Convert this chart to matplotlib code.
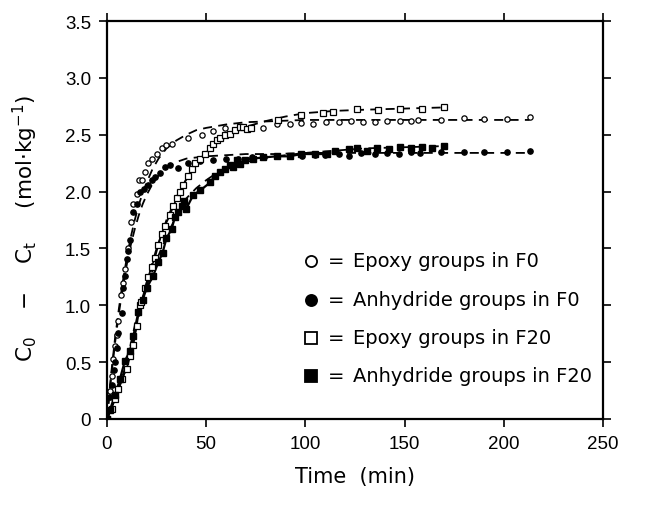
import matplotlib
matplotlib.use("Agg")
import matplotlib.pyplot as plt

plt.rcParams['font.family'] = ['Liberation Sans', 'DejaVu Sans']
plt.rcParams['mathtext.fontset'] = 'custom'
plt.rcParams['mathtext.rm'] = 'DejaVu Sans'
plt.rcParams['mathtext.it'] = 'DejaVu Sans'

# Epoxy groups in F0 (open circles)
t_ep_f0 = [0, 1.5, 2.4, 3.2, 4.0, 4.9, 5.7, 6.9, 8.2, 9.1, 10.7, 12.0, 13.3, 14.9,
           16.3, 17.5, 19.0, 20.8, 22.5, 25.0, 27.5, 30.0, 32.6, 41.0, 47.7, 53.5,
           59.5, 72.0, 78.8, 85.5, 92.0, 98.0, 104.0, 110.5, 117.0, 123.0, 129.0,
           135.0, 141.0, 147.6, 153.0, 157.0, 168.5, 180.0, 190.0, 201.5, 213.0]
c_ep_f0 = [0, 0.25, 0.38, 0.53, 0.64, 0.74, 0.86, 1.09, 1.20, 1.32, 1.50, 1.73, 1.89, 1.98,
           2.10, 2.10, 2.17, 2.25, 2.29, 2.33, 2.38, 2.41, 2.42, 2.47, 2.50, 2.53,
           2.56, 2.555, 2.56, 2.59, 2.59, 2.60, 2.59, 2.61, 2.61, 2.62, 2.61,
           2.61, 2.62, 2.62, 2.62, 2.63, 2.63, 2.65, 2.64, 2.64, 2.66]

# Anhydride groups in F0 (filled circles)
t_an_f0 = [0, 1.5, 2.4, 3.5, 4.0, 4.9, 5.7, 7.4, 8.2, 9.1, 9.9, 10.7, 11.6, 13.3, 14.9,
           16.6, 18.5, 20.8, 22.5, 24.2, 26.7, 29.2, 31.7, 36.0, 41.0, 47.0, 53.6,
           60.0, 66.0, 73.0, 79.0, 85.5, 92.0, 98.5, 105.0, 110.0, 117.0, 122.0,
           128.0, 135.0, 141.0, 147.0, 153.0, 158.0, 168.5, 180.0, 190.0, 201.5, 213.0]
c_an_f0 = [0, 0.19, 0.30, 0.43, 0.50, 0.62, 0.76, 0.93, 1.15, 1.26, 1.41, 1.48, 1.57, 1.82, 1.89,
           2.00, 2.02, 2.06, 2.10, 2.13, 2.16, 2.22, 2.23, 2.21, 2.25, 2.27, 2.28,
           2.29, 2.29, 2.30, 2.30, 2.31, 2.31, 2.31, 2.32, 2.32, 2.33, 2.31,
           2.34, 2.33, 2.34, 2.33, 2.35, 2.34, 2.35, 2.35, 2.35, 2.35, 2.36]

# Epoxy groups in F20 (open squares)
t_ep_f20 = [0, 2.4, 4.0, 5.7, 7.4, 9.9, 11.6, 13.3, 15.0, 16.6, 17.4, 19.2, 20.8, 22.5,
            24.2, 25.9, 27.5, 29.2, 31.7, 33.4, 35.1, 36.8, 38.5, 41.0, 42.7, 44.4,
            46.9, 49.4, 51.9, 53.6, 55.3, 57.0, 59.5, 62.0, 64.5, 67.0, 68.7, 70.4,
            72.5, 86.3, 98.0, 109.0, 114.0, 126.0, 136.5, 147.5, 159.0, 170.0]
c_ep_f20 = [0, 0.09, 0.18, 0.26, 0.35, 0.44, 0.55, 0.65, 0.82, 1.00, 1.03, 1.15, 1.25, 1.34,
            1.42, 1.53, 1.63, 1.70, 1.79, 1.87, 1.94, 2.00, 2.06, 2.14, 2.20, 2.25,
            2.29, 2.33, 2.38, 2.42, 2.45, 2.47, 2.50, 2.51, 2.54, 2.57, 2.57, 2.55,
            2.56, 2.63, 2.67, 2.69, 2.70, 2.73, 2.72, 2.73, 2.73, 2.74]

# Anhydride groups in F20 (filled squares)
t_an_f20 = [0, 1.5, 4.0, 6.5, 9.0, 11.6, 13.3, 15.8, 18.0, 20.0, 23.3, 25.9, 28.0, 30.0,
            32.6, 34.3, 36.0, 37.6, 39.0, 40.0, 43.5, 47.0, 52.0, 54.4, 57.0, 59.5,
            62.0, 63.5, 65.3, 67.0, 69.6, 73.7, 78.8, 85.5, 92.0, 98.0, 105.0, 110.7,
            115.0, 121.8, 125.8, 131.0, 136.3, 142.0, 147.6, 153.0, 158.9, 164.0, 169.8]
c_an_f20 = [0, 0.08, 0.21, 0.35, 0.51, 0.60, 0.73, 0.94, 1.05, 1.15, 1.26, 1.38, 1.46, 1.59,
            1.67, 1.78, 1.82, 1.87, 1.92, 1.85, 1.97, 2.01, 2.08, 2.14, 2.17, 2.20,
            2.23, 2.22, 2.28, 2.24, 2.28, 2.29, 2.30, 2.31, 2.31, 2.33, 2.33, 2.33,
            2.36, 2.37, 2.38, 2.36, 2.38, 2.37, 2.39, 2.38, 2.39, 2.38, 2.40]

# Fitted kinetic curves (dashed)
t_fit_f0 = [0, 2, 4, 6, 8, 10, 12, 14, 16, 18, 20, 23, 26, 30, 35, 40, 45, 50, 60, 70,
            85, 100, 130, 160, 190, 213]
fit_ep_f0 = [0, 0.38, 0.70, 0.97, 1.21, 1.42, 1.60, 1.75, 1.88, 1.99, 2.08, 2.20, 2.29,
             2.38, 2.45, 2.50, 2.54, 2.56, 2.59, 2.61, 2.62, 2.63, 2.63, 2.63, 2.63, 2.63]
fit_an_f0 = [0, 0.35, 0.66, 0.93, 1.16, 1.36, 1.53, 1.67, 1.79, 1.89, 1.97, 2.07, 2.14,
             2.21, 2.26, 2.29, 2.30, 2.31, 2.32, 2.33, 2.33, 2.34, 2.34, 2.34, 2.34, 2.34]
t_fit_f20 = [0, 5, 10, 15, 20, 25, 30, 35, 40, 45, 50, 55, 60, 70, 80, 90, 100, 115,
             130, 150, 170]
fit_ep_f20 = [0, 0.22, 0.46, 0.82, 1.20, 1.50, 1.75, 1.95, 2.11, 2.24, 2.34, 2.42, 2.48,
              2.57, 2.62, 2.66, 2.69, 2.71, 2.72, 2.73, 2.74]
fit_an_f20 = [0, 0.22, 0.50, 0.90, 1.17, 1.40, 1.60, 1.79, 1.94, 2.03, 2.10, 2.16, 2.20,
              2.26, 2.30, 2.32, 2.34, 2.36, 2.38, 2.39, 2.40]

legend_labels = ['Epoxy groups in F0', 'Anhydride groups in F0',
                 'Epoxy groups in F20', 'Anhydride groups in F20']

fig = plt.figure(figsize=(6.46, 5.06), dpi=100)
ax = fig.add_axes([0.1656, 0.170, 0.7678, 0.7865])

dash = (0, (5, 3.5))
ax.plot(t_fit_f0, fit_ep_f0, color='black', lw=1.3, ls=dash)
ax.plot(t_fit_f0, fit_an_f0, color='black', lw=1.3, ls=dash)
ax.plot(t_fit_f20, fit_ep_f20, color='black', lw=1.3, ls=dash)
ax.plot(t_fit_f20, fit_an_f20, color='black', lw=1.3, ls=dash)

# F20 data joined by a thin solid line during the rise
n_ep = 39
n_an = 38
ax.plot(t_ep_f20[:n_ep], c_ep_f20[:n_ep], color='black', lw=1.2)
ax.plot(t_an_f20[:n_an], c_an_f20[:n_an], color='black', lw=1.6)

ax.plot(t_ep_f0, c_ep_f0, ls='none', marker='o', ms=3.8, mfc='white', mec='black', mew=0.9)
ax.plot(t_an_f0, c_an_f0, ls='none', marker='o', ms=3.8, mfc='black', mec='black')
ax.plot(t_ep_f20, c_ep_f20, ls='none', marker='s', ms=4.0, mfc='white', mec='black', mew=0.9)
ax.plot(t_an_f20, c_an_f20, ls='none', marker='s', ms=4.0, mfc='black', mec='black')

# legend drawn by hand as symbol "=" text rows
leg_marks = [('o', 'white'), ('o', 'black'), ('s', 'white'), ('s', 'black')]
leg_y = [0.398, 0.300, 0.204, 0.108]
for (m, fc), y, lab in zip(leg_marks, leg_y, legend_labels):
    ax.plot([0.411], [y], transform=ax.transAxes, marker=m, ms=8, mfc=fc,
            mec='black', mew=1.3, ls='none', clip_on=False)
    ax.text(0.445, y, '=', transform=ax.transAxes, fontsize=14,
            family='DejaVu Sans', va='center', ha='left')
    ax.text(0.496, y, lab, transform=ax.transAxes, fontsize=14,
            family='DejaVu Sans', va='center', ha='left')

ax.set_xlim(0, 250)
ax.set_ylim(0, 3.5)
ax.set_xticks([0, 50, 100, 150, 200, 250])
ax.set_yticks([0, 0.5, 1.0, 1.5, 2.0, 2.5, 3.0, 3.5])
ax.set_yticklabels(['0', '0.5', '1.0', '1.5', '2.0', '2.5', '3.0', '3.5'])
ax.tick_params(direction='out', length=5.5, width=1.2, labelsize=13.5,
               top=True, right=True, pad=6)
for s in ax.spines.values():
    s.set_linewidth(1.6)

ax.set_xlabel('Time  (min)', fontsize=15, family='DejaVu Sans', labelpad=10)
ax.set_ylabel(r'C$_\mathregular{0}$    $-$    C$_\mathregular{t}$     (mol$\cdot$kg$^\mathregular{-1}$)',
              fontsize=15.5, family='DejaVu Sans')
ax.yaxis.set_label_coords(-0.135, 0.48)

fig.savefig('out.png', dpi=100)
